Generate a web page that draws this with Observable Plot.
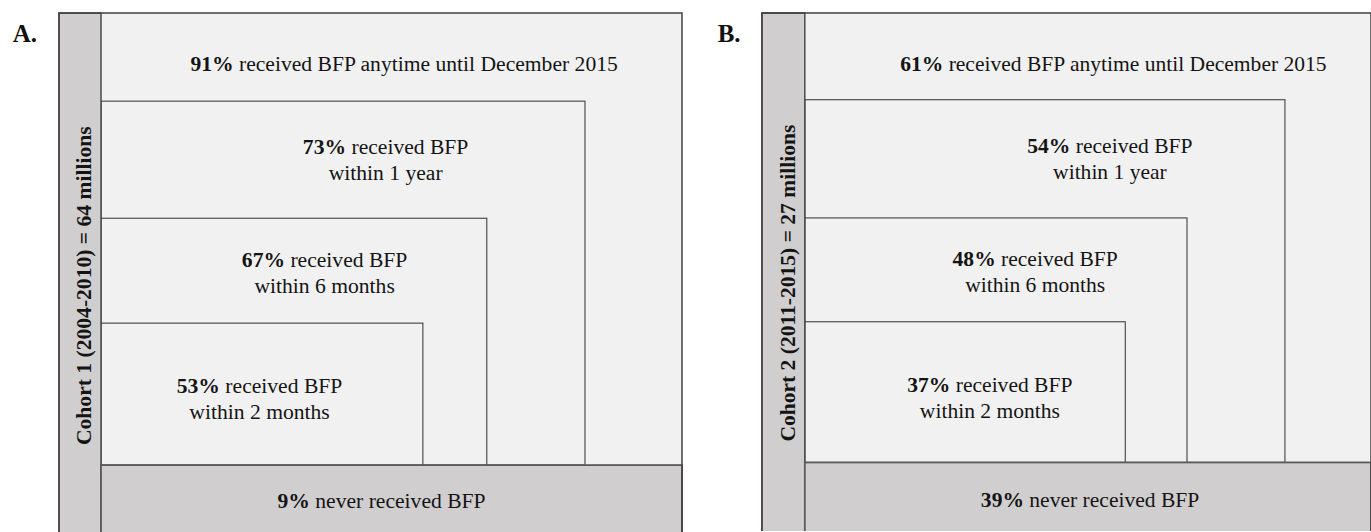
<!DOCTYPE html>
<html><head><meta charset="utf-8">
<script src="https://cdn.jsdelivr.net/npm/d3@7"></script>
<script src="https://cdn.jsdelivr.net/npm/@observablehq/plot@0.6"></script>
<style>
html,body{margin:0;padding:0;background:#fff;}
#wrap{position:relative;width:1371px;height:532px;overflow:hidden;}
.panel{position:absolute;top:0;}
.panel svg{overflow:hidden;display:block;}
.panel svg text{font-family:'Liberation Serif','Times New Roman',serif !important;}
.tag{position:absolute;font:bold 25px 'Liberation Serif',serif;line-height:1;color:#111;white-space:nowrap;}
</style></head><body>
<div id="wrap"></div>
<script>
// ---------- data ----------
const panelTags = ["A.", "B."];
const cohortLabels = ["Cohort 1 (2004-2010) = 64 millions", "Cohort 2 (2011-2015) = 27 millions"];
const periods = ["anytime until December 2015", "within 1 year", "within 6 months", "within 2 months"];
const cohort1Pct = [91, 73, 67, 53];
const cohort2Pct = [61, 54, 48, 37];
const neverPct = [9, 39];
const seriesPct = [cohort1Pct, cohort2Pct];

// ---------- layout (diagram geometry, in panel units) ----------
const layout = [
  {left: 0, width: 700, marginLeft: 59, marginRight: 18, side: 0.0723, ymin: -0.148,
   rights: [1, 0.833, 0.664, 0.554], tops: [1, 0.805, 0.546, 0.314],
   labelX: [0.5215, 0.489, 0.384, 0.272], labelY: [0.872, 0.690, 0.440, 0.1615],
   neverX: 0.482, neverY: -0.093, cohortY: 0.398, tagX: 12.7},
  {left: 700, width: 672, marginLeft: 62, marginRight: 0, side: 0.0758, ymin: -0.153,
   rights: [1, 0.848, 0.675, 0.566], tops: [1, 0.807, 0.544, 0.313],
   labelX: [0.545, 0.538, 0.406, 0.326], labelY: [0.872, 0.689, 0.438, 0.158],
   neverX: 0.503, neverY: -0.098, cohortY: 0.40, tagX: 717.7}
];

const F = 21.6;
const FONT = "'Liberation Serif', 'Times New Roman', serif";
const fillMain = "#f1f1f1", fillGray = "#d0cecf", stroke = "#404040", ink = "#141414";
const LINE2 = 26;

const ctx = document.createElement("canvas").getContext("2d");
function tw(s, bold) { ctx.font = `${bold ? "bold " : ""}${F}px ${FONT}`; return ctx.measureText(s).width; }

function mixedLine(row, boldText, restText) {
  const b = tw(boldText, true), s = tw(" ", false), r = tw(restText, false);
  const W = b + s + r;
  const common = {x: "x", y: "y", fontSize: F, fontFamily: FONT, fill: ink, lineAnchor: "bottom"};
  return [
    Plot.text([row], {...common, text: () => boldText, fontWeight: "bold", textAnchor: "end", dx: b - W / 2}),
    Plot.text([row], {...common, text: () => restText, textAnchor: "start", dx: b + s - W / 2})
  ];
}

const wrap = document.getElementById("wrap");

layout.forEach((L, k) => {
  const pcts = seriesPct[k];
  const lo = L.ymin - 0.3;
  const levels = periods.map((p, i) => ({period: p, pct: pcts[i], x1: 0, x2: L.rights[i], y1: 0, y2: L.tops[i]}));
  const marks = [];
  marks.push(Plot.rect([{x1: 0, x2: 1, y1: 0, y2: 1}], {x1: "x1", x2: "x2", y1: "y1", y2: "y2", fill: fillMain}));
  marks.push(Plot.rect(levels.slice(1), {x1: "x1", x2: "x2", y1: "y1", y2: "y2", fill: fillMain, stroke, strokeWidth: 1.1}));
  marks.push(Plot.rect([{x1: -L.side, x2: 0, y1: lo, y2: 1}], {x1: "x1", x2: "x2", y1: "y1", y2: "y2", fill: fillGray, stroke, strokeWidth: 1.4}));
  marks.push(Plot.rect([{x1: 0, x2: 1, y1: lo, y2: 0}], {x1: "x1", x2: "x2", y1: "y1", y2: "y2", fill: fillGray, stroke: "#5a5a5a", strokeWidth: 1.8}));
  marks.push(Plot.rect([{x1: -L.side, x2: 1, y1: lo, y2: 1}], {x1: "x1", x2: "x2", y1: "y1", y2: "y2", fill: "none", stroke, strokeWidth: 1.5}));
  levels.forEach((lv, i) => {
    const row = {x: L.labelX[i], y: L.labelY[i]};
    const boldText = `${lv.pct}%`;
    if (i === 0) {
      marks.push(...mixedLine(row, boldText, `received BFP ${lv.period}`));
    } else {
      marks.push(...mixedLine(row, boldText, "received BFP"));
      marks.push(Plot.text([row], {x: "x", y: "y", text: () => lv.period, fontSize: F, fontFamily: FONT, fill: ink, lineAnchor: "bottom", textAnchor: "middle", dy: LINE2}));
    }
  });
  marks.push(...mixedLine({x: L.neverX, y: L.neverY}, `${neverPct[k]}%`, "never received BFP"));
  marks.push(Plot.text([{x: -L.side / 2, y: L.cohortY, t: cohortLabels[k]}], {x: "x", y: "y", text: "t", rotate: -90, fontWeight: "bold", fontSize: F, fontFamily: FONT, fill: ink, dx: 4}));

  const chart = Plot.plot({
    width: L.width, height: 532,
    marginTop: 13, marginBottom: 0, marginLeft: L.marginLeft, marginRight: L.marginRight,
    x: {domain: [-L.side, 1], axis: null},
    y: {domain: [L.ymin, 1], axis: null},
    style: {background: "transparent", overflow: "hidden"},
    marks
  });
  const div = document.createElement("div");
  div.className = "panel";
  div.style.left = L.left + "px";
  div.appendChild(chart);
  wrap.appendChild(div);

  const tag = document.createElement("div");
  tag.className = "tag";
  tag.textContent = panelTags[k];
  tag.style.left = L.tagX + "px";
  tag.style.top = "20.6px";
  wrap.appendChild(tag);
});
</script>
</body></html>
